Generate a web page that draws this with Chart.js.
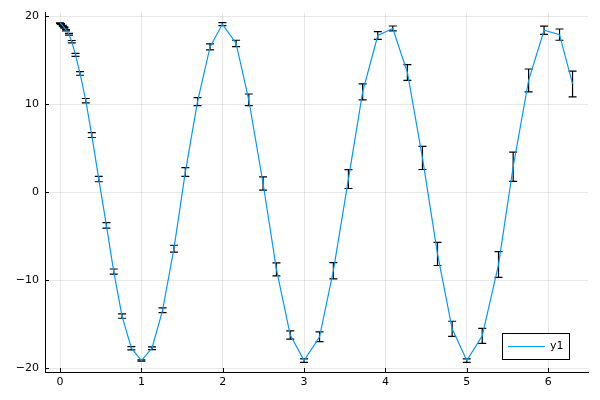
<!DOCTYPE html>
<html>
<head>
<meta charset="utf-8">
<script src="https://cdn.jsdelivr.net/npm/chart.js@4.4.1/dist/chart.umd.min.js"></script>
<style>
html,body{margin:0;padding:0;background:#fff;}
#wrap{width:600px;height:400px;}
</style>
</head>
<body>
<div id="wrap"><canvas id="c" width="600" height="400"></canvas></div>
<script>
const xs = [0, 0.012, 0.033, 0.053, 0.074, 0.11, 0.144, 0.19, 0.246, 0.316, 0.39, 0.476, 0.57, 0.66, 0.762, 0.877, 1.0, 1.13, 1.26, 1.40, 1.54, 1.69, 1.844, 1.996, 2.164, 2.32, 2.496, 2.66, 2.83, 3.0, 3.19, 3.36, 3.545, 3.72, 3.906, 4.09, 4.27, 4.455, 4.64, 4.82, 5.0, 5.19, 5.39, 5.57, 5.76, 5.95, 6.14, 6.30];
const ys = [19.2, 19.1, 18.9, 18.7, 18.4, 17.95, 17.1, 15.6, 13.5, 10.4, 6.5, 1.5, -3.75, -9.0, -14.05, -17.7, -19.1, -17.7, -13.4, -6.4, 2.3, 10.3, 16.5, 19.1, 16.9, 10.5, 1.0, -8.75, -16.2, -19.1, -16.4, -8.9, 1.5, 11.4, 17.8, 18.6, 13.6, 3.9, -7.0, -15.5, -19.1, -16.3, -8.2, 2.9, 12.7, 18.4, 17.9, 12.3];
const errs = [0.05, 0.05, 0.06, 0.07, 0.08, 0.1, 0.13, 0.17, 0.21, 0.25, 0.28, 0.3, 0.31, 0.29, 0.25, 0.18, 0.08, 0.15, 0.27, 0.39, 0.49, 0.45, 0.34, 0.17, 0.36, 0.66, 0.75, 0.73, 0.47, 0.2, 0.55, 0.92, 1.07, 0.9, 0.43, 0.28, 0.9, 1.31, 1.31, 0.86, 0.2, 0.85, 1.46, 1.65, 1.3, 0.47, 0.64, 1.46];
const xTicks = [0, 1, 2, 3, 4, 5, 6];
const yTicks = [-20, -10, 0, 10, 20];
const seriesLabel = 'y1';

const FONT = 'DejaVu Sans';

const errorBars = {
  id: 'errorBars',
  beforeDatasetsDraw(chart) {
    const {ctx, scales: {x, y}} = chart;
    ctx.save();
    ctx.strokeStyle = '#000';
    ctx.lineWidth = 1.2;
    const cap = 4;
    for (let i = 0; i < xs.length; i++) {
      const px = x.getPixelForValue(xs[i]);
      const top = y.getPixelForValue(ys[i] + errs[i]);
      const bot = y.getPixelForValue(ys[i] - errs[i]);
      ctx.beginPath();
      ctx.moveTo(px, top); ctx.lineTo(px, bot);
      ctx.moveTo(px - cap, top); ctx.lineTo(px + cap, top);
      ctx.moveTo(px - cap, bot); ctx.lineTo(px + cap, bot);
      ctx.stroke();
    }
    ctx.restore();
  }
};

const decor = {
  id: 'decor',
  afterDraw(chart) {
    const {ctx, chartArea: a, scales: {x, y}} = chart;
    ctx.save();
    ctx.strokeStyle = '#000';
    ctx.lineWidth = 1;
    ctx.beginPath();
    xTicks.forEach(v => {
      const px = Math.round(x.getPixelForValue(v)) + 0.5;
      ctx.moveTo(px, a.bottom); ctx.lineTo(px, a.bottom - 4);
    });
    yTicks.forEach(v => {
      const py = Math.round(y.getPixelForValue(v)) + 0.5;
      ctx.moveTo(a.left, py); ctx.lineTo(a.left + 4, py);
    });
    ctx.stroke();
    // legend
    const bx = 502.5, by = 333.5, bw = 67, bh = 26;
    ctx.fillStyle = '#fff';
    ctx.fillRect(bx, by, bw, bh);
    ctx.strokeStyle = '#000';
    ctx.lineWidth = 1;
    ctx.strokeRect(bx, by, bw, bh);
    ctx.strokeStyle = '#009AFA';
    ctx.lineWidth = 1.2;
    ctx.beginPath();
    ctx.moveTo(508, 346.5); ctx.lineTo(545, 346.5);
    ctx.stroke();
    ctx.fillStyle = '#000';
    ctx.font = '11px "' + FONT + '"';
    ctx.textBaseline = 'middle';
    ctx.textAlign = 'left';
    ctx.fillText(seriesLabel, 550, 346.5);
    ctx.restore();
  }
};

const fmt = v => String(v).replace('-', '\u2212');

new Chart(document.getElementById('c'), {
  type: 'line',
  data: {
    datasets: [{
      label: seriesLabel,
      data: xs.map((v, i) => ({x: v, y: ys[i]})),
      borderColor: '#009AFA',
      borderWidth: 1.2,
      pointRadius: 0,
      fill: false,
      tension: 0
    }]
  },
  options: {
    responsive: false,
    animation: false,
    devicePixelRatio: 1,
    layout: {padding: {left: 0, right: 12, top: 10, bottom: 0}},
    plugins: {legend: {display: false}, tooltip: {enabled: false}},
    scales: {
      x: {
        type: 'linear',
        min: -0.185, max: 6.49,
        afterBuildTicks: s => { s.ticks = xTicks.map(v => ({value: v})); },
        afterFit: s => { s.height = 28; },
        grid: {color: 'rgba(0,0,0,0.09)', drawTicks: false},
        border: {display: true, color: '#000', width: 1},
        ticks: {color: '#000', font: {family: FONT, size: 11}, padding: 4, maxRotation: 0, callback: fmt}
      },
      y: {
        type: 'linear',
        min: -20.4, max: 20.4,
        afterBuildTicks: s => { s.ticks = yTicks.map(v => ({value: v})); },
        afterFit: s => { s.width = 45; },
        grid: {color: 'rgba(0,0,0,0.09)', drawTicks: false},
        border: {display: true, color: '#000', width: 1},
        ticks: {color: '#000', font: {family: FONT, size: 11}, padding: 6, callback: fmt}
      }
    }
  },
  plugins: [errorBars, decor]
});
</script>
</body>
</html>
